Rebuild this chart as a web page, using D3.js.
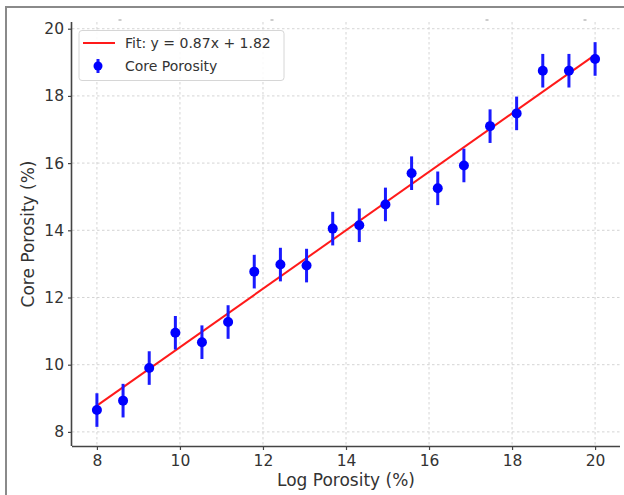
<!DOCTYPE html>
<html>
<head>
<meta charset="utf-8">
<script src="https://cdn.jsdelivr.net/npm/d3@7"></script>
<style>
  html, body { margin: 0; padding: 0; background: #fff; }
  svg { display: block; font-family: "DejaVu Sans", sans-serif; }
</style>
</head>
<body>
<svg id="chart" width="624" height="495"></svg>
<script>
// ---- data ----
const logPorosity = [8, 8.63, 9.26, 9.89, 10.53, 11.16, 11.79, 12.42, 13.05, 13.68,
                     14.32, 14.95, 15.58, 16.21, 16.84, 17.47, 18.11, 18.74, 19.37, 20];
const corePorosity = [8.65, 8.93, 9.9, 10.95, 10.67, 11.27, 12.77, 12.98, 12.95, 14.05,
                      14.15, 14.77, 15.7, 15.25, 15.93, 17.1, 17.48, 18.75, 18.75, 19.1];
const errorSize = [0.5, 0.5, 0.5, 0.5, 0.5, 0.5, 0.5, 0.5, 0.5, 0.5,
                   0.5, 0.5, 0.5, 0.5, 0.5, 0.5, 0.5, 0.5, 0.5, 0.5];
const fitSlope = 0.87;
const fitIntercept = 1.82;
const xTicks = [8, 10, 12, 14, 16, 18, 20];
const yTicks = [8, 10, 12, 14, 16, 18, 20];
const fitLabel = "Fit: y = 0.87x + 1.82";
const pointLabel = "Core Porosity";
const xLabel = "Log Porosity (%)";
const yLabel = "Core Porosity (%)";

(function () {
// ---- layout ----
const svg = d3.select("#chart");
const pLeft = 72, pRight = 620, pTop = 22, pBottom = 446;
const x = d3.scaleLinear().domain([7.4, 20.6]).range([pLeft, pRight]);
const y = d3.scaleLinear().domain([7.58, 20.2]).range([pBottom, pTop]);

// outer frame (left + top)
svg.append("line").attr("x1", 6).attr("x2", 6).attr("y1", 7).attr("y2", 495)
  .attr("stroke", "#8a8a8a").attr("stroke-width", 2);
svg.append("line").attr("x1", 5).attr("x2", 624).attr("y1", 7).attr("y2", 7)
  .attr("stroke", "#8a8a8a").attr("stroke-width", 2);

// small artifacts at top
[120, 272, 487, 585].forEach(px => {
  svg.append("line").attr("x1", px - 1.5).attr("x2", px + 1.5).attr("y1", 20).attr("y2", 20)
    .attr("stroke", "#999").attr("stroke-width", 1);
});

// grid
const grid = svg.append("g").attr("stroke", "#cfcfcf").attr("stroke-width", 0.9)
  .attr("stroke-dasharray", "2.5,2.5");
xTicks.forEach(t => grid.append("line").attr("x1", x(t)).attr("x2", x(t))
  .attr("y1", pTop).attr("y2", pBottom));
yTicks.forEach(t => grid.append("line").attr("x1", pLeft).attr("x2", pRight)
  .attr("y1", y(t)).attr("y2", y(t)));

// axes
const xAxis = svg.append("g").attr("transform", `translate(0,${pBottom})`)
  .call(d3.axisBottom(x).tickValues(xTicks).tickSize(4).tickPadding(5).tickFormat(d3.format("d")));
const yAxis = svg.append("g").attr("transform", `translate(${pLeft},0)`)
  .call(d3.axisLeft(y).tickValues(yTicks).tickSize(4).tickPadding(4).tickFormat(d3.format("d")));
[xAxis, yAxis].forEach(a => {
  a.select(".domain").attr("stroke", "#444").attr("stroke-width", 1.6);
  a.selectAll(".tick line").attr("stroke", "#444").attr("stroke-width", 1.2);
  a.selectAll(".tick text").attr("fill", "#333").style("font-size", "15.5px")
    .style("font-family", "DejaVu Sans, sans-serif");
});
xAxis.select(".domain").attr("d", `M${pLeft},0.5H${pRight}`);
yAxis.select(".domain").attr("d", `M-0.5,${pBottom}V${pTop}`);

// fit line
const fitX = d3.extent(logPorosity);
const line = d3.line().x(d => x(d)).y(d => y(fitSlope * d + fitIntercept));
svg.append("path").datum(fitX).attr("d", line)
  .attr("fill", "none").attr("stroke", "#ff1a1a").attr("stroke-width", 2);

// error bars & points
const pts = logPorosity.map((v, i) => ({ x: v, y: corePorosity[i], e: errorSize[i] }));
svg.append("g").selectAll("line").data(pts).join("line")
  .attr("x1", d => x(d.x)).attr("x2", d => x(d.x))
  .attr("y1", d => y(d.y - d.e)).attr("y2", d => y(d.y + d.e))
  .attr("stroke", "#1a1aff").attr("stroke-width", 3);
svg.append("g").selectAll("circle").data(pts).join("circle")
  .attr("cx", d => x(d.x)).attr("cy", d => y(d.y)).attr("r", 5)
  .attr("fill", "#0000ff");

// axis labels
svg.append("text").attr("x", (pLeft + pRight) / 2).attr("y", 486)
  .attr("text-anchor", "middle").attr("fill", "#333").style("font-size", "17px").text(xLabel);
svg.append("text").attr("transform", `translate(34,${(pTop + pBottom) / 2}) rotate(-90)`)
  .attr("text-anchor", "middle").attr("fill", "#333").style("font-size", "17px").text(yLabel);

// legend
const lg = svg.append("g");
lg.append("rect").attr("x", 79).attr("y", 30.5).attr("width", 205).attr("height", 50)
  .attr("rx", 3).attr("fill", "rgba(255,255,255,0.85)").attr("stroke", "#d6d6d6").attr("stroke-width", 1);
lg.append("line").attr("x1", 83).attr("x2", 115).attr("y1", 43).attr("y2", 43)
  .attr("stroke", "#ff1a1a").attr("stroke-width", 2);
lg.append("text").attr("x", 125).attr("y", 48).attr("fill", "#333").style("font-size", "14px").text(fitLabel);
lg.append("line").attr("x1", 98).attr("x2", 98).attr("y1", 59).attr("y2", 73)
  .attr("stroke", "#1a1aff").attr("stroke-width", 3);
lg.append("circle").attr("cx", 98).attr("cy", 66).attr("r", 4.5).attr("fill", "#0000ff");
lg.append("text").attr("x", 125).attr("y", 71).attr("fill", "#333").style("font-size", "14px").text(pointLabel);
})();
</script>
</body>
</html>
